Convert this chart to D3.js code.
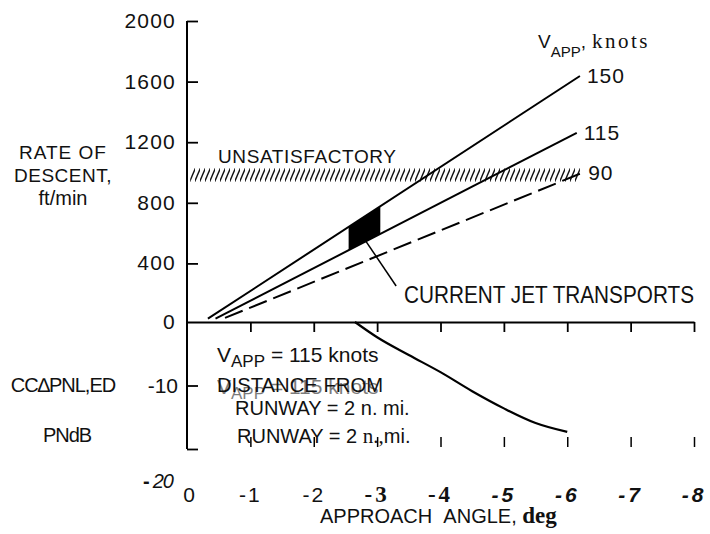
<!DOCTYPE html>
<html>
<head>
<meta charset="utf-8">
<script src="https://cdn.jsdelivr.net/npm/d3@7"></script>
<style>
  body { margin: 0; background: #fff; }
  svg { display: block; }
  text { font-family: 'Liberation Sans', Arial, sans-serif; fill: #111; }
</style>
</head>
<body>
<div id="chart"></div>
<script>
// data
const angleTicks = [0, -1, -2, -3, -4, -5, -6, -7, -8]
const rateTicks = [0, 400, 800, 1200, 1600, 2000]
const pnlTicks = [0, -10, -20]

const speeds = [150, 115, 90]
const lineAngles = {150: [-0.33, -6.2], 115: [-0.45, -6.15], 90: [-0.6, -6.22]}
const lineRates = {150: [35, 1637], 115: [35, 1262], 90: [40, 995]}

const unsatRange = [937, 1030]      // hatched band, ft/min
const unsatAngles = [-0.05, -6.2]
const jetAngles = [-2.55, -3.05]    // current jet transports

const noiseAngle = [-2.65, -3, -3.5, -4, -4.5, -5, -5.5, -6]
const noiseDelta = [0, -2.4, -5.2, -7.9, -10.9, -13.6, -15.9, -17.3]

const width = 710
const height = 534

const svg = d3.select('#chart').append('svg')
    .attr('width', width)
    .attr('height', height)

const x = d3.scaleLinear().domain([0, -8]).range([187, 694])
const yTop = d3.scaleLinear().domain([0, 2000]).range([324, 21])
const yBot = d3.scaleLinear().domain([0, -20]).range([322, 449])

// hatch pattern
const defs = svg.append('defs')
defs.append('pattern')
    .attr('id', 'hatch')
    .attr('width', 5)
    .attr('height', 14)
    .attr('patternUnits', 'userSpaceOnUse')
    .append('line')
    .attr('x1', -0.5).attr('y1', 14)
    .attr('x2', 5.5).attr('y2', 0)
    .attr('stroke', '#111')
    .attr('stroke-width', 1.4)

svg.append('rect')
    .attr('x', x(unsatAngles[0]))
    .attr('y', yTop(unsatRange[1]))
    .attr('width', x(unsatAngles[1]) - x(unsatAngles[0]))
    .attr('height', yTop(unsatRange[0]) - yTop(unsatRange[1]))
    .attr('fill', 'url(#hatch)')

// rate at angle a on speed line
const rateAt = (s, a) => {
    const t = d3.scaleLinear().domain(lineAngles[s]).range(lineRates[s])
    return t(a)
}

// black region between 150 and 115 lines
const jetArea = d3.area()
    .x(a => x(a))
    .y0(a => yTop(rateAt(115, a)))
    .y1(a => yTop(rateAt(150, a)))
svg.append('path')
    .datum(jetAngles)
    .attr('d', jetArea)
    .attr('fill', '#000')

// speed lines
const line = d3.line()
    .x(d => x(d[0]))
    .y(d => yTop(d[1]))
speeds.forEach(s => {
    svg.append('path')
        .datum(d3.zip(lineAngles[s], lineRates[s]))
        .attr('d', line)
        .attr('fill', 'none')
        .attr('stroke', '#000')
        .attr('stroke-width', 2)
        .attr('stroke-dasharray', s === 90 ? '19,7' : null)
})

// noise curve
svg.append('path')
    .datum(d3.zip(noiseAngle, noiseDelta))
    .attr('d', d3.line().x(d => x(d[0])).y(d => yBot(d[1])).curve(d3.curveMonotoneX))
    .attr('fill', 'none')
    .attr('stroke', '#000')
    .attr('stroke-width', 2.2)

// axes
svg.append('line')
    .attr('x1', x(0)).attr('x2', x(0))
    .attr('y1', yTop(2000)).attr('y2', yBot(-20))
    .attr('stroke', '#000').attr('stroke-width', 2)

const axisStyle = g => {
    g.selectAll('line').attr('stroke', '#000').attr('stroke-width', 1.8)
    g.selectAll('path').attr('stroke', '#000').attr('stroke-width', 2)
}

svg.append('g')
    .attr('transform', `translate(${x(0)},0)`)
    .call(d3.axisLeft(yTop).tickValues(rateTicks.slice(1)).tickSize(-11).tickFormat(''))
    .call(g => g.select('.domain').remove())
    .call(axisStyle)

svg.append('g')
    .attr('transform', `translate(${x(0)},0)`)
    .call(d3.axisLeft(yBot).tickValues(pnlTicks.slice(1)).tickSize(-11).tickFormat(''))
    .call(g => g.select('.domain').remove())
    .call(axisStyle)

svg.append('g')
    .attr('transform', `translate(0,${yBot(0)})`)
    .call(d3.axisBottom(x).tickValues(angleTicks.slice(1)).tickSize(10).tickSizeOuter(0).tickFormat(''))
    .call(axisStyle)

svg.append('g')
    .attr('transform', `translate(0,${yBot(-20) - 2})`)
    .call(d3.axisTop(x).tickValues(angleTicks.slice(1)).tickSize(10).tickFormat(''))
    .call(g => g.select('.domain').remove())
    .call(g => g.selectAll('line').attr('stroke', '#000').attr('stroke-width', 1.5))

// y tick labels
svg.append('g').selectAll('text')
    .data(rateTicks)
    .join('text')
    .attr('x', 176)
    .attr('y', d => (d === 0 ? yBot(0) : yTop(d)) + 7)
    .attr('text-anchor', 'end')
    .attr('font-size', 21)
    .attr('letter-spacing', 1.2)
    .text(d => d)

svg.append('text')
    .attr('x', 178).attr('y', yBot(-10) + 7)
    .attr('text-anchor', 'end')
    .attr('font-size', 21)
    .text('-10')

svg.append('text')
    .attr('x', 143).attr('y', 488)
    .attr('font-size', 20)
    .html('<tspan font-weight="bold">-</tspan><tspan dx="3" font-style="italic" letter-spacing="-1">20</tspan>')

// x tick labels, three type styles as on the original
const xLabel = svg.append('g')
angleTicks.forEach((a, i) => {
    const t = xLabel.append('text')
        .attr('x', x(a) + (i === 0 ? 3 : 0))
        .attr('y', 502)
        .attr('text-anchor', 'middle')
        .text(a === 0 ? '0' : '-' + Math.abs(a))
    if (i <= 2) {
        t.attr('font-size', 21).attr('letter-spacing', 2)
    } else if (i <= 4) {
        t.style('font-family', "'Liberation Serif', serif")
            .attr('font-weight', 'bold')
            .attr('font-size', 23)
            .attr('letter-spacing', 3)
    } else {
        t.attr('font-weight', 'bold')
            .attr('font-style', 'italic')
            .attr('font-size', 21)
            .attr('letter-spacing', 3)
    }
})

svg.append('text')
    .attr('x', 320).attr('y', 523)
    .attr('font-size', 20)
    .html('APPROACH&#160;&#160;ANGLE, <tspan font-family="Liberation Serif, serif" font-weight="bold" font-size="23">deg</tspan>')

// left titles
const leftTitle = svg.append('g').attr('font-size', 19).attr('text-anchor', 'middle')
leftTitle.append('text').attr('x', 63).attr('y', 159).attr('letter-spacing', 1).text('RATE  OF')
leftTitle.append('text').attr('x', 63).attr('y', 182).attr('letter-spacing', 0.5).text('DESCENT,')
leftTitle.append('text').attr('x', 63).attr('y', 205).attr('font-size', 20).text('ft/min')
leftTitle.append('text').attr('x', 63).attr('y', 392).attr('font-size', 20).attr('letter-spacing', -1).text('CC\u2206PNL,ED')
leftTitle.append('text').attr('x', 67).attr('y', 442).attr('font-size', 20).attr('letter-spacing', -1).text('PNdB')

// annotations in plot
svg.append('text')
    .attr('x', 218).attr('y', 163)
    .attr('font-size', 19)
    .attr('textLength', 178)
    .text('UNSATISFACTORY')

const spLabelY = {150: 83, 115: 140, 90: 180}
speeds.forEach(s => {
    svg.append('text')
        .attr('x', x(lineAngles[s][1]) + 7)
        .attr('y', spLabelY[s])
        .attr('font-size', 21)
        .attr('letter-spacing', 1)
        .text(s)
})

svg.append('text')
    .attr('x', 538).attr('y', 48)
    .attr('font-size', 19)
    .html('V<tspan font-size="15" dy="9">APP</tspan><tspan dy="-9">,</tspan><tspan dx="6" font-family="Liberation Serif, serif" font-size="21" letter-spacing="2.5">knots</tspan>')

svg.append('line')
    .attr('x1', x(-2.8)).attr('y1', yTop(rateAt(115, -2.8)) - 3)
    .attr('x2', x(-3.3)).attr('y2', 286)
    .attr('stroke', '#000').attr('stroke-width', 1.5)

svg.append('text')
    .attr('x', 404).attr('y', 303)
    .attr('font-size', 24)
    .attr('textLength', 290)
    .attr('lengthAdjust', 'spacingAndGlyphs')
    .text('CURRENT JET TRANSPORTS')

// lower panel notes (overprinted as in the scan)
const vapp = '<tspan>V</tspan><tspan font-size="17" dy="5">APP</tspan><tspan dy="-5"> = 115 knots</tspan>'
svg.append('text')
    .attr('x', 217).attr('y', 362)
    .attr('font-size', 21)
    .html(vapp)
svg.append('text')
    .attr('x', 217).attr('y', 394)
    .attr('font-size', 21)
    .attr('opacity', 0.55)
    .html(vapp)
svg.append('text')
    .attr('x', 217).attr('y', 392)
    .attr('font-size', 20)
    .attr('textLength', 166)
    .attr('lengthAdjust', 'spacingAndGlyphs')
    .text('DISTANCE FROM')
svg.append('text')
    .attr('x', 235).attr('y', 415)
    .attr('font-size', 20)
    .text('RUNWAY = 2 n. mi.')
svg.append('text')
    .attr('x', 237).attr('y', 443)
    .attr('font-size', 20)
    .html('RUNWAY = 2 <tspan font-family="Liberation Serif, serif" font-size="21">n.,</tspan>mi.')
</script>
</body>
</html>
